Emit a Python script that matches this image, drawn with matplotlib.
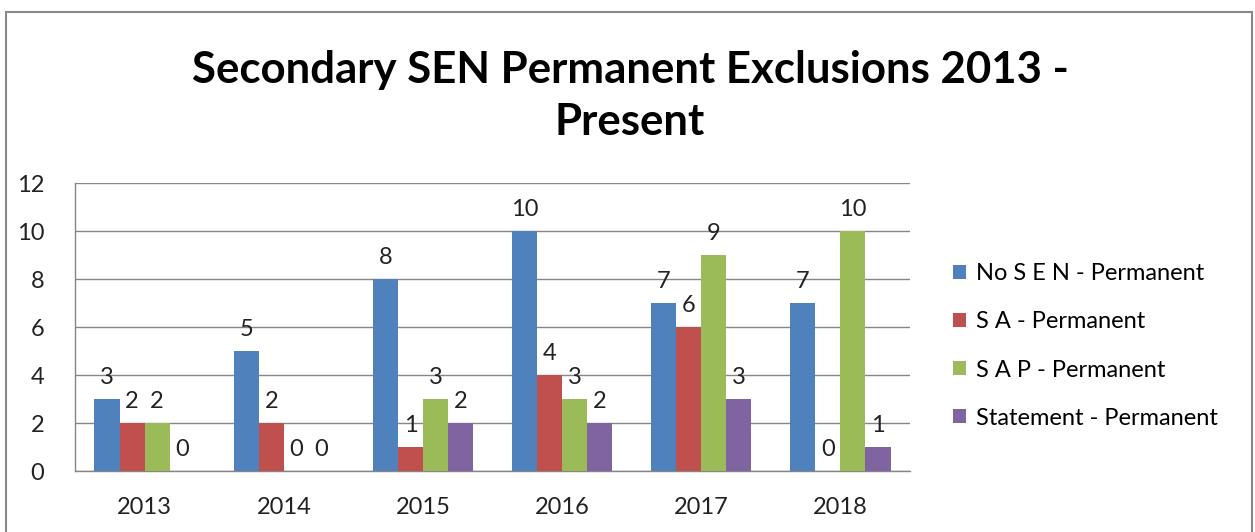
import matplotlib
matplotlib.use("Agg")
import matplotlib.pyplot as plt
import numpy as np
from matplotlib.patches import Rectangle

# ---------------------------------------------------------------------------
# Data
# ---------------------------------------------------------------------------
years = ["2013", "2014", "2015", "2016", "2017", "2018"]
no_sen = [3, 5, 8, 10, 7, 7]
sa = [2, 2, 1, 4, 6, 0]
sap = [2, 0, 3, 3, 9, 10]
statement = [0, 0, 2, 2, 3, 1]

series_names = [
    "No S E N - Permanent",
    "S A - Permanent",
    "S A P - Permanent",
    "Statement - Permanent",
]
colours = ["#4F81BD", "#C0504D", "#9BBB59", "#8064A2"]

plt.rcParams["font.family"] = ["Lato", "DejaVu Sans"]

W, H = 1255, 532
fig = plt.figure(figsize=(W / 100, H / 100), dpi=100)
fig.patch.set_facecolor("white")

# outer chart border
fig.patches.append(Rectangle((6 / W, -0.02), 1246 / W, 1.02 - 12 / H,
                             transform=fig.transFigure, fill=False,
                             edgecolor="#888888", linewidth=1.5))

ax = fig.add_axes([75 / W, 1 - 471 / H, (910 - 75) / W, (471 - 183) / H])

x = np.arange(len(years))
width = 0.18
all_series = [no_sen, sa, sap, statement]
for i, (vals, name, col) in enumerate(zip(all_series, series_names, colours)):
    pos = x + (i - 1.5) * width
    bars = ax.bar(pos, vals, width, color=col, label=name, zorder=3)
    for b, v in zip(bars, vals):
        ax.annotate(str(v), (b.get_x() + b.get_width() / 2, v),
                    xytext=(0, 8), textcoords="offset points",
                    ha="center", va="bottom", fontsize=17, color="#222222")

ax.set_xlim(-0.5, len(years) - 0.5)
ax.set_ylim(0, 12)
ax.set_yticks(range(0, 13, 2))
ax.set_xticks(x)
ax.set_xticklabels(years)
ax.tick_params(axis="both", labelsize=17, colors="#222222", length=0)
ax.tick_params(axis="y", pad=22)
ax.tick_params(axis="x", pad=19)
ax.grid(axis="y", color="#868686", linewidth=1, zorder=0)
for s in ["top", "right"]:
    ax.spines[s].set_visible(False)
for s in ["left", "bottom"]:
    ax.spines[s].set_color("#868686")
    ax.spines[s].set_linewidth(1)

fig.text(630 / W, 1 - 96 / H,
         "Secondary SEN Permanent Exclusions 2013 -\nPresent",
         ha="center", va="center", fontsize=31.5, fontweight="bold",
         linespacing=1.38, color="black")

ax.legend(loc="center left", bbox_to_anchor=(944 / W, 1 - 346 / H),
          bbox_transform=fig.transFigure, frameon=False, fontsize=17,
          handlelength=0.55, handleheight=0.55, handletextpad=0.4,
          labelspacing=1.15, borderaxespad=0)

fig.savefig("out.png", dpi=100)
